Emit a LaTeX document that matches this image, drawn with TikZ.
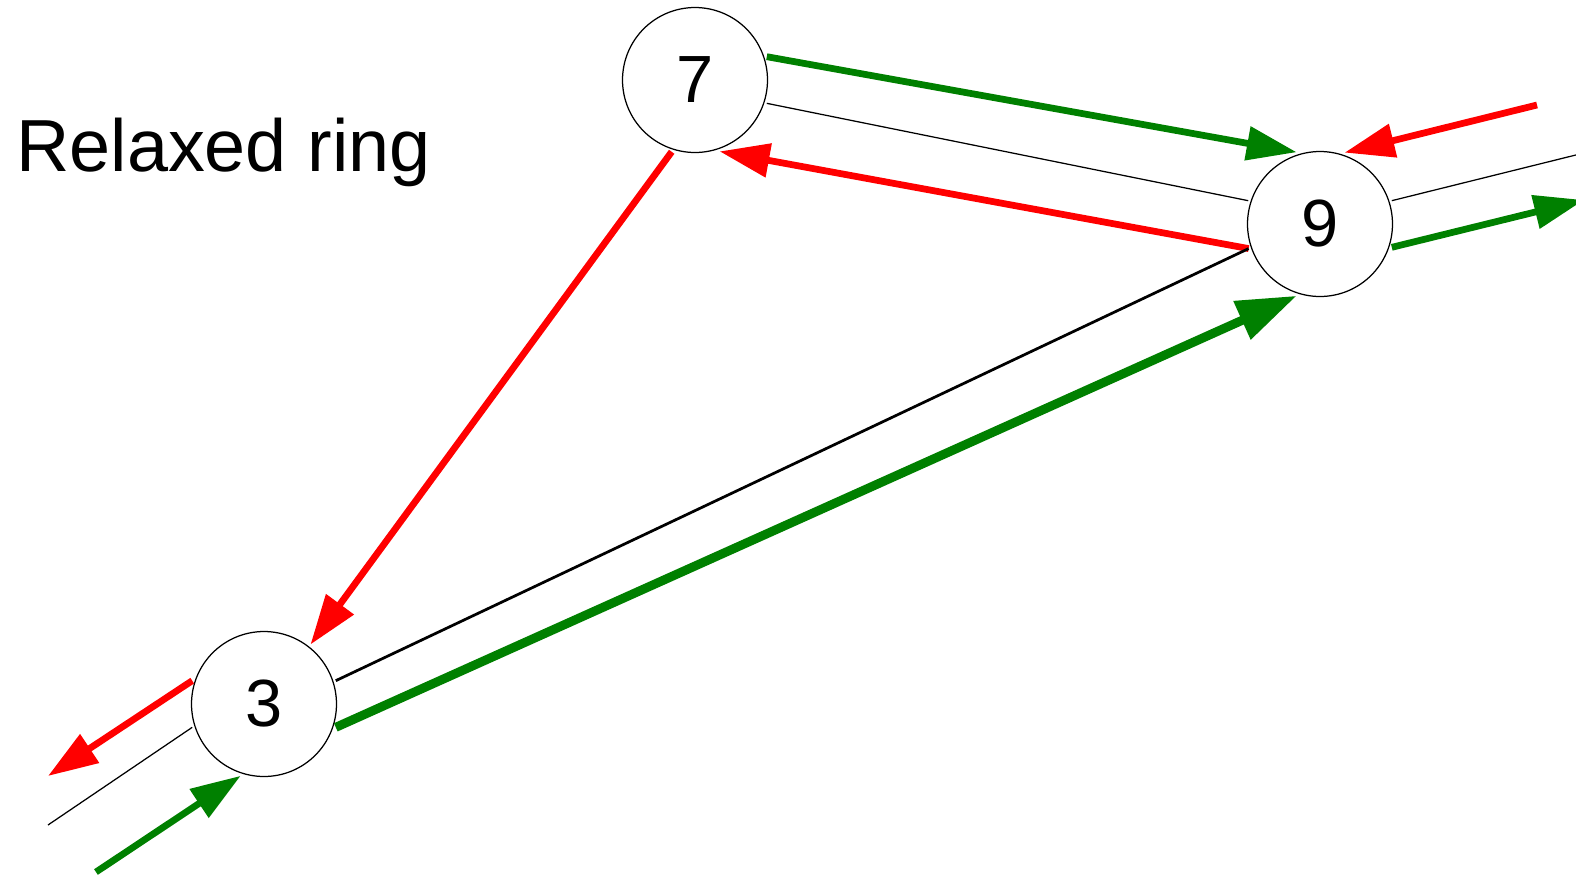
\documentclass[tikz,border=0pt]{standalone}
\usepackage{fontspec}
\setmainfont{Liberation Sans}
\usetikzlibrary{arrows.meta}

\begin{document}
\begin{tikzpicture}[x=0.02cm,y=-0.02cm,>={Triangle[length=1cm,width=0.66cm]}]
% --- styles ----------------------------------------------------
\tikzstyle{peer}=[circle,draw,line width=0.025cm,minimum size=2.9cm,inner sep=0pt,outer sep=0.06cm,font=\fontsize{38}{40}\selectfont]
\tikzstyle{succ}=[green!50!black,line width=0.135cm]
\tikzstyle{pred}=[red,line width=0.135cm]
\tikzstyle{link}=[black,line width=0.025cm]

\useasboundingbox (0,0) rectangle (1576,877);
\clip (0,0) rectangle (1576,877);

% --- title -----------------------------------------------------
\node[anchor=base west,inner sep=0pt,font=\fontsize{42}{44}\selectfont] (title) at (16,171) {Relaxed ring};

% --- peers -----------------------------------------------------
\node[peer] (n7) at (695,80)  {7};
\node[peer] (n9) at (1320,224) {9};
\node[peer] (n3) at (264,704) {3};

% --- loose ends outside the picture ---------------------------
\coordinate (rin)   at (1537,105);   % red coming into 9
\coordinate (rout)  at (1600,149);   % ring continues right
\coordinate (gout)  at (1584,200);   % green leaving 9
\coordinate (lred)  at (48,776);     % red leaving 3
\coordinate (lout)  at (48,825);     % ring continues left
\coordinate (lgin)  at (96,872);     % green coming into 3

% --- 7 <-> 9 ---------------------------------------------------
\draw[succ,->] (n7.18) -- (n9.108);
\draw[link] (n7.-18) -- (n9.162);
\draw[pred,->] (n9.-161) -- (n7.-71);

% --- 7 -> 3 ----------------------------------------------------
\draw[pred,->] (n7.-108) -- (n3.52);

% --- 3 <-> 9 ---------------------------------------------------
\draw[link,line width=0.055cm] (n9.-161) -- (n3.18);
\draw[succ,line width=0.18cm,-{Triangle[length=1.2cm,width=0.8cm]}] (n3.-18) -- (n9.-108);

% --- right side of 9 -------------------------------------------
\draw[pred,->] (rin) -- (n9.71);
\draw[link] (n9.18) -- (rout);
\draw[succ,->] (n9.-18) -- (gout);

% --- left side of 3 --------------------------------------------
\draw[pred,->] (n3.162) -- (lred);
\draw[link] (n3.-162) -- (lout);
\draw[succ,->] (lgin) -- (n3.-108);

\end{tikzpicture}
\end{document}
